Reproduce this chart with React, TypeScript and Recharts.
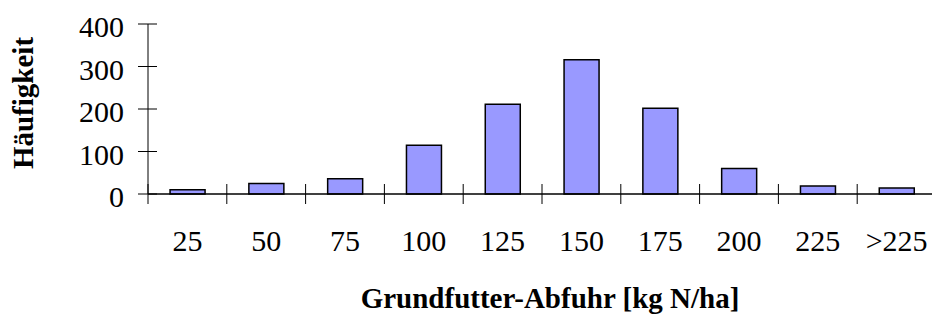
import React from 'react';
import { BarChart, Bar, XAxis, YAxis, Label } from 'recharts';

const categories = ['25', '50', '75', '100', '125', '150', '175', '200', '225', '>225'];
const frequencies = [10, 25, 36, 115, 211, 316, 202, 60, 19, 14];
const yTicks = [0, 100, 200, 300, 400];

const xTitle = 'Grundfutter-Abfuhr [kg N/ha]';
const yTitle = 'Häufigkeit';

const CHART_W = 940;
const CHART_H = 316;
const MARGIN = { top: 24, right: 4, bottom: 0, left: 0 };
const Y_AXIS_W = 148;
const X_AXIS_H = 122;
const BAND = (CHART_W - MARGIN.left - MARGIN.right - Y_AXIS_W) / categories.length;

const FONT = '"Liberation Serif", "Times New Roman", serif';

const data = categories.map((label, i) => ({ label, value: frequencies[i] }));

const XTick = ({ x, y, payload }: any) => (
  <g>
    <line x1={x - BAND / 2} x2={x - BAND / 2} y1={y - 10} y2={y + 10} stroke="#000" strokeWidth={1} />
    <text x={x} y={y + 57} textAnchor="middle" fontFamily={FONT} fontSize={30} fill="#000">
      {payload.value}
    </text>
  </g>
);

const YTick = ({ x, y, payload }: any) => (
  <g>
    <line x1={x - 10} x2={x + 9} y1={y} y2={y} stroke="#000" strokeWidth={1} />
    <text x={x - 24} y={y + 13} textAnchor="end" fontFamily={FONT} fontSize={30} fill="#000">
      {payload.value}
    </text>
  </g>
);

const XTitle = ({ viewBox }: any) => (
  <text
    x={viewBox.x + viewBox.width / 2 + 8}
    y={viewBox.y + viewBox.height - 8}
    textAnchor="middle"
    fontFamily={FONT}
    fontSize={29}
    fontWeight="bold"
    fill="#000"
  >
    {xTitle}
  </text>
);

const YTitle = ({ viewBox }: any) => {
  const cx = 33;
  const cy = viewBox.y + viewBox.height / 2 - 6;
  return (
    <text
      x={cx}
      y={cy}
      transform={`rotate(-90, ${cx}, ${cy})`}
      textAnchor="middle"
      fontFamily={FONT}
      fontSize={29}
      fontWeight="bold"
      fill="#000"
    >
      {yTitle}
    </text>
  );
};

export default function App() {
  return (
    <div
      style={{
        position: 'fixed',
        left: 0,
        top: 0,
        width: 932,
        height: 316,
        overflow: 'hidden',
        background: '#fff',
      }}
    >
      <BarChart width={CHART_W} height={CHART_H} data={data} margin={MARGIN} barCategoryGap="28%">
        <XAxis
          dataKey="label"
          height={X_AXIS_H}
          tickSize={0}
          tickMargin={0}
          tick={<XTick />}
          axisLine={{ stroke: '#000', strokeWidth: 1.5 }}
          interval={0}
        >
          <Label content={<XTitle />} />
        </XAxis>
        <YAxis
          width={Y_AXIS_W}
          domain={[0, 400]}
          ticks={yTicks}
          tickSize={0}
          tickMargin={0}
          tick={<YTick />}
          axisLine={{ stroke: '#000', strokeWidth: 1 }}
        >
          <Label content={<YTitle />} />
        </YAxis>
        <Bar dataKey="value" fill="#9999FF" stroke="#000" strokeWidth={1.5} isAnimationActive={false} />
      </BarChart>
    </div>
  );
}
